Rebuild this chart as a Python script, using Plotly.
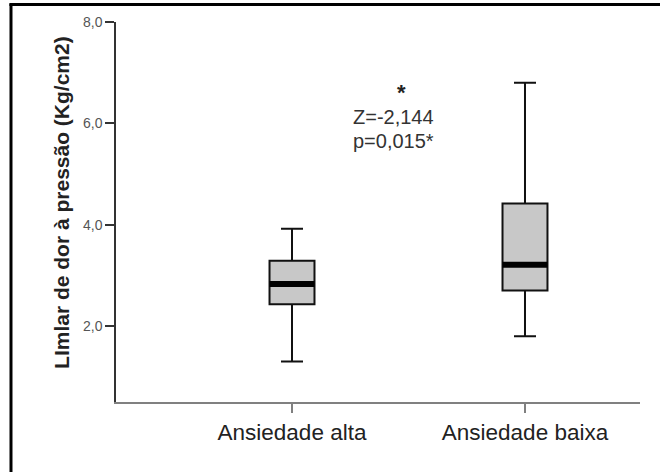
import plotly.graph_objects as go

# ---- data ----
categories = ["Ansiedade alta", "Ansiedade baixa"]
lower_whisker = [1.30, 1.80]
q1_values = [2.43, 2.70]
median_values = [2.83, 3.21]
q3_values = [3.29, 4.42]
upper_whisker = [3.92, 6.80]
y_tick_vals = [2, 4, 6, 8]
y_tick_text = ["2,0", "4,0", "6,0", "8,0"]
y_title = "LImlar de dor à pressão (Kg/cm2)"
stat_star = "*"
stat_z = "Z=-2,144"
stat_p = "p=0,015*"

FONT = "Liberation Sans, Arial, sans-serif"
BOX_W = 0.193

fig = go.Figure()
fig.add_trace(go.Box(
    x=categories,
    q1=q1_values,
    median=median_values,
    q3=q3_values,
    lowerfence=lower_whisker,
    upperfence=upper_whisker,
    boxpoints=False,
    width=BOX_W,
    whiskerwidth=0.49,
    fillcolor="#c8c8c8",
    line=dict(color="#111111", width=2),
    showlegend=False,
    hoverinfo="skip",
))

shapes = []
# thick median bars
for i, m in enumerate(median_values):
    shapes.append(dict(type="line", xref="x", yref="y",
                       x0=i - BOX_W / 2, x1=i + BOX_W / 2, y0=m, y1=m,
                       line=dict(color="black", width=6)))
# outer frame (top and left)
shapes.append(dict(type="line", xref="paper", yref="paper",
                   x0=-0.2004, x1=-0.2004, y0=1.048, y1=-0.25,
                   line=dict(color="black", width=3)))
shapes.append(dict(type="line", xref="paper", yref="paper",
                   x0=-0.2034, x1=1.1, y0=1.046, y1=1.046,
                   line=dict(color="black", width=3)))

annotations = [
    dict(text=y_title, xref="paper", yref="paper", x=-0.103, y=0.524,
         textangle=-90, showarrow=False, xanchor="center", yanchor="middle",
         font=dict(family=FONT, size=21, color="#222222", weight="bold")),
    dict(text=stat_star, xref="x", yref="y", x=0.472, y=6.60,
         showarrow=False, xanchor="center", yanchor="middle",
         font=dict(family=FONT, size=22, color="#222222", weight="bold")),
    dict(text=stat_z, xref="x", yref="y", x=0.2575, y=6.12,
         showarrow=False, xanchor="left", yanchor="middle", borderpad=0,
         font=dict(family=FONT, size=20, color="#333333")),
    dict(text=stat_p, xref="x", yref="y", x=0.2575, y=5.645,
         showarrow=False, xanchor="left", yanchor="middle", borderpad=0,
         font=dict(family=FONT, size=20, color="#333333")),
]

fig.update_layout(
    width=660, height=472,
    margin=dict(l=116, r=20, t=22, b=70),
    paper_bgcolor="white", plot_bgcolor="white",
    shapes=shapes, annotations=annotations,
    font=dict(family=FONT),
    xaxis=dict(
        type="category", range=[-0.7554, 1.4936],
        showline=True, linecolor="#808080", linewidth=2,
        ticks="outside", ticklen=9, tickcolor="#808080", tickwidth=1.5,
        showgrid=False, zeroline=False,
        tickfont=dict(family=FONT, size=22.5, color="#222222"),
    ),
    yaxis=dict(
        range=[0.5, 8.0], tickvals=y_tick_vals, ticktext=y_tick_text,
        showline=True, linecolor="#333333", linewidth=1.5,
        ticks="outside", ticklen=9, tickcolor="#333333", tickwidth=1.5,
        showgrid=False, zeroline=False,
        tickfont=dict(family=FONT, size=14, color="#555555"),
    ),
)

fig.write_html(
    "out.html",
    config={"displayModeBar": False},
    post_script="document.body.style.margin='0';document.body.style.padding='0';",
)
